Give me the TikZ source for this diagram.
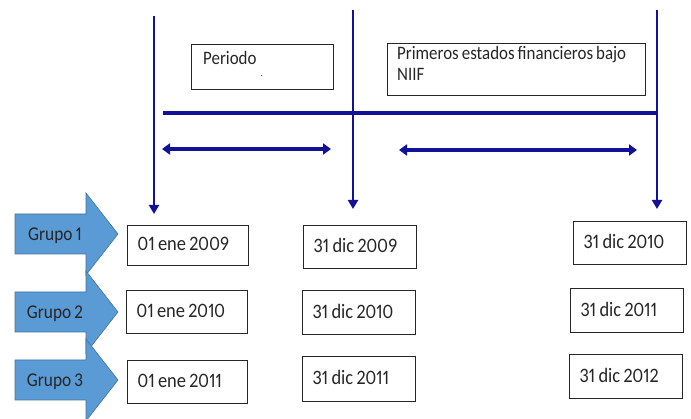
\documentclass[tikz,border=0pt]{standalone}
\usepackage{fontspec}
\setmainfont{Carlito}[FakeStretch=0.89, WordSpace=0.8, Numbers=Proportional]
\newfontfamily\datefont{Carlito}[FakeStretch=0.9, WordSpace=0.8, Numbers=Proportional]
\usetikzlibrary{arrows.meta}
\definecolor{navyline}{RGB}{18,18,152}
\definecolor{blockfill}{RGB}{91,155,213}
\definecolor{blockedge}{RGB}{65,113,156}
\tikzset{
  vline/.style={navyline, line width=2.6pt, -{Triangle[width=10pt,length=9pt]}},
  hline/.style={navyline, line width=3.8pt},
  span/.style={navyline, line width=3.6pt, {Triangle[width=11pt,length=8pt]}-{Triangle[width=11pt,length=8pt]}},
  datebox/.style={draw=black!85, line width=1.1pt, inner sep=0pt, anchor=north west},
  datetext/.style={anchor=west, inner sep=0pt, font=\datefont\fontsize{20.5}{23}\selectfont, text=black!85},
  infobox/.style={draw=black!85, line width=1.1pt, anchor=north west, inner sep=0pt},
  block/.style={fill=blockfill, draw=blockedge, line width=0.6pt},
  blocklabel/.style={font=\fontsize{19.5}{22}\selectfont, text=black!85},
  infotext/.style={font=\fontsize{19}{21}\selectfont, anchor=north west, align=left, inner sep=0pt, text=black!85}
}
\newcommand{\datebx}[6]{% name, x, y, w, h, text
  \node[datebox, minimum width=#4pt, minimum height=#5pt] (#1) at (#2,#3) {};
  \node[datetext] (#1t) at ([xshift=10.5pt,yshift=1.5pt]#1.west) {#6};
}
\begin{document}
\begin{tikzpicture}[x=1pt,y=-1pt]
\useasboundingbox (0,0) rectangle (691,419);
\begin{scope}
\clip (0,0) rectangle (691,419);
% block arrows
\foreach \c/\n/\lab in {234/g1/Grupo 1, 312/g2/Grupo 2, 380/g3/Grupo 3}{
  \draw[block] (15,\c-20) -- (86,\c-20) -- (86,\c-41) -- (118,\c) -- (86,\c+41) -- (86,\c+20) -- (15,\c+20) -- cycle;
  \node[blocklabel] (\n) at (55,\c+2) {\lab};
}
\end{scope}

% info boxes
\node[infobox, minimum width=142pt, minimum height=45pt] (per) at (191,44) {};
\node[infotext] (pertxt) at (203,51) {Periodo};
\node[inner sep=0pt, font=\fontsize{9}{9}\selectfont] (dot) at (262,76) {.};
\node[infobox, minimum width=258pt, minimum height=52pt] (niif) at (387,43) {};
\node[infotext] (niiftxt) at (397,46) {Primeros estados financieros bajo\\NIIF};

% timeline coordinates
\coordinate (t1) at (154,16);
\coordinate (b1) at (154,214);
\coordinate (t2) at (353,10);
\coordinate (b2) at (353,209);
\coordinate (t3) at (657,10);
\coordinate (b3) at (657,209);
\coordinate (h1) at (163,113);
\coordinate (h2) at (657,113);
\coordinate (sa1) at (162,149);
\coordinate (sa2) at (331,149);
\coordinate (sb1) at (399,150);
\coordinate (sb2) at (637,150);

\draw[hline] (h1) -- (h2);
\draw[vline] (t1) -- (b1);
\draw[vline] (t2) -- (b2);
\draw[vline] (t3) -- (b3);
\draw[span] (sa1) -- (sa2);
\draw[span] (sb1) -- (sb2);

% date boxes
\datebx{a1}{127}{225}{121}{40}{01 ene 2009}
\datebx{m1}{303}{225}{113}{43}{31 dic 2009}
\datebx{r1}{573}{221}{113}{43}{31 dic 2010}

\datebx{a2}{126}{290}{121}{43}{01 ene 2010}
\datebx{m2}{302}{290}{113}{44}{31 dic 2010}
\datebx{r2}{570}{288}{113}{44}{31 dic 2011}

\datebx{a3}{127}{360}{120}{43}{01 ene 2011}
\datebx{m3}{302}{356}{113}{45}{31 dic 2011}
\datebx{r3}{569}{354}{113}{44}{31 dic 2012}
\end{tikzpicture}
\end{document}
